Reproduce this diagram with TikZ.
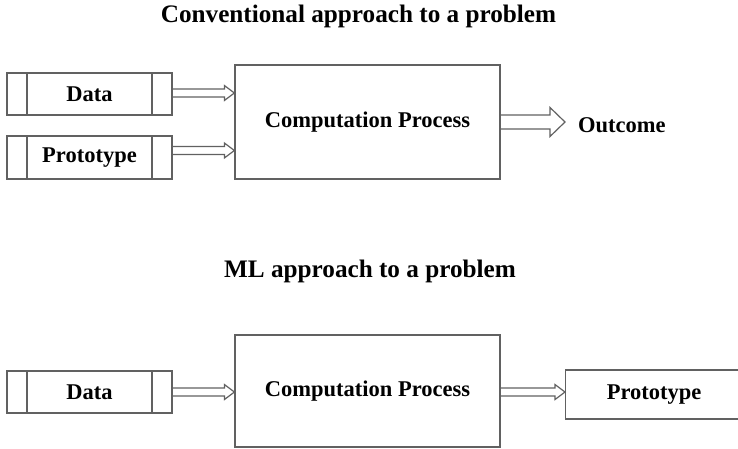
\documentclass[tikz,border=0pt]{standalone}
\usepackage{fontspec}
\setmainfont{Liberation Serif}
\usetikzlibrary{calc}

\newcommand{\labelfont}{\bfseries\fontsize{22.5}{26}\selectfont}
\newcommand{\titlefont}{\bfseries\fontsize{25.2}{30}\selectfont}

\tikzset{
  edge/.style={draw=black!62, line width=1.2pt},
  box/.style={edge, rectangle, inner sep=0pt, font=\labelfont, text=black},
  % input record: a box with a narrow cell at each end
  record/.style={box, minimum width=165pt, minimum height=42pt,
    path picture={
      \draw[edge] ([xshift=20pt]path picture bounding box.north west) -- ([xshift=20pt]path picture bounding box.south west);
      \draw[edge] ([xshift=-20pt]path picture bounding box.north east) -- ([xshift=-20pt]path picture bounding box.south east);
    }},
  title/.style={font=\titlefont, anchor=base, text=black},
  % hollow block arrow: half shaft, half head, head length
  blockarrow/.style n args={3}{edge, line join=miter, to path={
    let \p1=(\tikztostart), \p2=(\tikztotarget) in
    (\x1,\y1+#1) -- (\x2-#3,\y1+#1) -- (\x2-#3,\y1+#2) -- (\x2,\y1)
    -- (\x2-#3,\y1-#2) -- (\x2-#3,\y1-#1) -- (\x1,\y1-#1)}},
  smallarrow/.style={blockarrow={4pt}{7.5pt}{10pt}},
  bigarrow/.style={blockarrow={7pt}{14.5pt}{15pt}}
}

\begin{document}
\begin{tikzpicture}[x=1pt, y=-1pt]
  \fill[white] (0,0) rectangle (738,448);
  \clip (0,0) rectangle (738,448);

  % conventional approach
  \node[title] (t1) at (358.5,22) {Conventional approach to a problem};
  \node[record] (data1) at (89.5,94) {Data};
  \node[record, minimum height=43pt] (proto1) at (89.5,157.5) {Prototype};
  \node[box, minimum width=265pt, minimum height=114pt] (comp1) at (367.5,122) {Computation Process};
  \node[font=\labelfont, anchor=west, inner sep=0pt] (out1) at (578,125) {Outcome};
  \coordinate (p1) at ([yshift=7pt]proto1.east);
  \coordinate (d1) at ([yshift=1pt]data1.east);
  \coordinate (o1) at ([xshift=-13pt]out1.west);

  \draw[smallarrow] (d1) to (comp1.west |- d1);
  \draw[smallarrow] (p1) to (comp1.west |- p1);
  \draw[bigarrow] (comp1.east) to (comp1.east -| o1);

  % ML approach
  \node[title] (t2) at (370,277) {ML approach to a problem};
  \node[record] (data2) at (89.5,392) {Data};
  \node[box, minimum width=265pt, minimum height=112pt] (comp2) at (367.5,391) {Computation Process};
  \node[box, minimum width=177pt, minimum height=49pt, anchor=west] (proto2) at (565,394.5) {Prototype};

  \draw[smallarrow] (data2.east) to (comp2.west |- data2.east);
  \draw[smallarrow] (comp2.east |- data2.east) to (proto2.west |- data2.east);
\end{tikzpicture}
\end{document}
